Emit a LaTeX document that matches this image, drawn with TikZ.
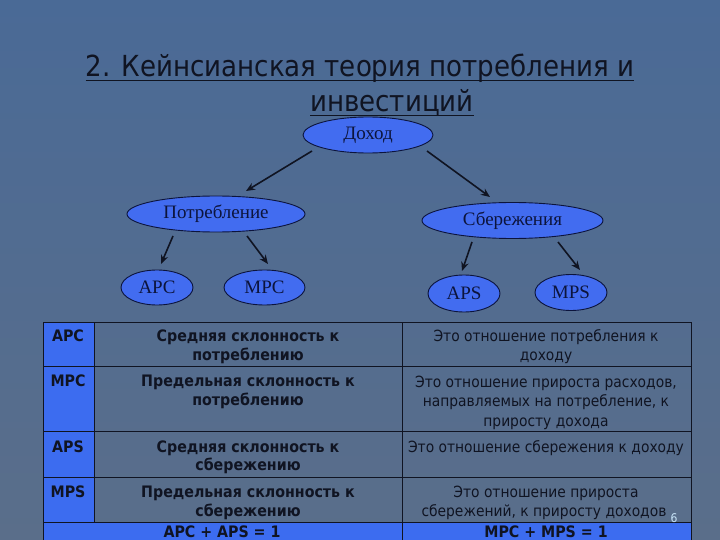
\documentclass[tikz,border=0pt]{standalone}
\usepackage{fontspec}
\setmainfont{Liberation Serif}
\newfontfamily\tfont{DejaVu Sans Condensed}
\usetikzlibrary{shapes.geometric,arrows.meta}
\definecolor{bgtop}{RGB}{74,106,150}
\definecolor{bgbot}{RGB}{90,110,138}
\definecolor{ellfill}{RGB}{66,108,240}
\definecolor{celfill}{RGB}{60,108,240}
\definecolor{inkc}{RGB}{16,20,34}
\definecolor{navy}{RGB}{12,20,60}
\definecolor{numc}{RGB}{200,228,248}
\begin{document}
\begin{tikzpicture}[x=1pt,y=-1pt,
  ell/.style={ellipse, draw=navy, line width=0.9pt, fill=ellfill, inner sep=0pt,
    text=navy, font=\fontsize{19}{21}\selectfont},
  arr/.style={draw=inkc, line width=1.6pt, -{Stealth[length=9pt,width=7.5pt]}},
  gridl/.style={draw=inkc, line width=1pt},
  ttl/.style={font=\tfont\fontsize{29}{32}\selectfont, text=inkc, inner sep=0pt, anchor=base},
  ulin/.style={draw=inkc, line width=1.6pt},
  cl/.style={font=\tfont\bfseries\fontsize{15.8}{18}\selectfont, text=inkc, inner sep=0pt, anchor=base},
  cr/.style={font=\tfont\fontsize{15.4}{18}\selectfont, text=inkc, inner sep=0pt, anchor=base}
]
\useasboundingbox (0,0) rectangle (720,540);
\clip (0,0) rectangle (720,540);
\shade[top color=bgtop, bottom color=bgbot] (0,0) rectangle (720,540);

% title
\node[ttl] (t1) at (360,77) {2. Кейнсианская теория потребления и};
\node[ttl] (t2) at (392,112) {инвестиций};
\draw[ulin] ([yshift=-3.5pt]t1.base west) -- ([yshift=-3.5pt]t1.base east);
\draw[ulin] ([yshift=-3.5pt]t2.base west) -- ([yshift=-3.5pt]t2.base east);

% tree
\node[ell, minimum width=130pt, minimum height=36pt] (dohod) at (368,135) {Доход};
\node[ell, minimum width=178pt, minimum height=36pt] (potr) at (216,214) {Потребление};
\node[ell, minimum width=181pt, minimum height=36pt] (sber) at (512.5,220.5) {Сбережения};
\node[ell, minimum width=72pt, minimum height=35pt] (apc) at (157,287.5) {APC};
\node[ell, minimum width=81pt, minimum height=35pt] (mpc) at (264.5,287.5) {MPC};
\node[ell, minimum width=72pt, minimum height=37pt] (aps) at (464,293.5) {APS};
\node[ell, minimum width=72pt, minimum height=36pt] (mps) at (571,292.5) {MPS};

\draw[arr] ([shift={(-56,16)}]dohod.center) -- ([shift={(30,-23)}]potr.center);
\draw[arr] ([shift={(59,16)}]dohod.center) -- ([shift={(-22.5,-23.5)}]sber.center);
\draw[arr] ([shift={(-43,22)}]potr.center) -- ([shift={(4,-23.5)}]apc.center);
\draw[arr] ([shift={(31,22)}]potr.center) -- ([shift={(3.5,-23.5)}]mpc.center);
\draw[arr] ([shift={(-40.5,21.5)}]sber.center) -- ([shift={(-2,-22.5)}]aps.center);
\draw[arr] ([shift={(45.5,21.5)}]sber.center) -- ([shift={(9,-22.5)}]mps.center);

% table fills
\fill[celfill] (43,322) rectangle (94,522);
\fill[celfill] (43,522) rectangle (691,545);
% grid
\draw[gridl] (43,322) rectangle (691,545);
\foreach \yy in {366,431,477,522} \draw[gridl] (43,\yy) -- (691,\yy);
\draw[gridl] (94,322) -- (94,522);
\draw[gridl] (402,322) -- (402,545);

% column 1
\node[cl] (k1) at (68,341) {APC};
\node[cl] (k2) at (68,386) {MPC};
\node[cl] (k3) at (68,452) {APS};
\node[cl] (k4) at (68,497) {MPS};
% column 2
\node[cl] (d1a) at (248,341) {Средняя склонность к};
\node[cl] (d1b) at (248,360) {потреблению};
\node[cl] (d2a) at (248,386) {Предельная склонность к};
\node[cl] (d2b) at (248,405) {потреблению};
\node[cl] (d3a) at (248,452) {Средняя склонность к};
\node[cl] (d3b) at (248,470) {сбережению};
\node[cl] (d4a) at (248,497) {Предельная склонность к};
\node[cl] (d4b) at (248,516) {сбережению};
% column 3
\node[cr] (e1a) at (546,341) {Это отношение потребления к};
\node[cr] (e1b) at (546,360) {доходу};
\node[cr] (e2a) at (546,387) {Это отношение прироста расходов,};
\node[cr] (e2b) at (546,406) {направляемых на потребление, к};
\node[cr] (e2c) at (546,426) {приросту дохода};
\node[cr] (e3a) at (546,452) {Это отношение сбережения к доходу};
\node[cr] (e4a) at (546,497) {Это отношение прироста};
\node[cr] (e4b) at (544,516) {сбережений, к приросту доходов};
% last row
\node[cl] (s1) at (222,537.5) {APC + APS = 1};
\node[cl] (s2) at (546,537.5) {MPC + MPS = 1};
% slide number
\node[font=\tfont\fontsize{12}{14}\selectfont, text=numc, inner sep=0pt] (num) at (674,518) {6};
\end{tikzpicture}
\end{document}
